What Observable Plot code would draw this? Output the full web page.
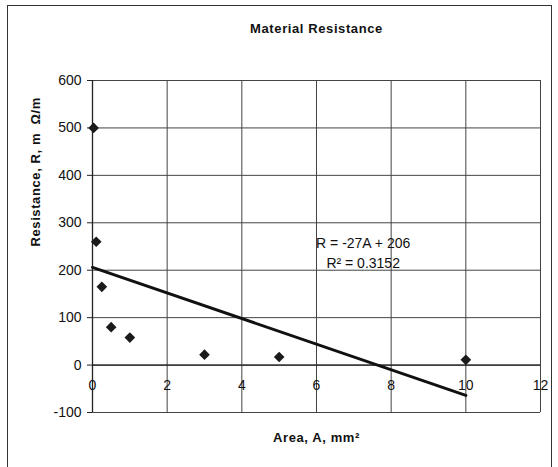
<!DOCTYPE html>
<html>
<head>
<meta charset="utf-8">
<script src="https://cdn.jsdelivr.net/npm/d3@7"></script>
<script src="https://cdn.jsdelivr.net/npm/@observablehq/plot@0.6"></script>
<style>
  html, body { margin: 0; padding: 0; background: #fff; }
  #wrap { position: relative; width: 558px; height: 467px; overflow: hidden; }
  #box { position: absolute; left: 7px; top: 5px; width: 545px; height: 470px; border: 1.5px solid #333; box-sizing: border-box; }
  #chart { position: absolute; left: 0; top: 0; }
  #chart svg text.bold-label { letter-spacing: 0.6px; }
</style>
</head>
<body>
<div id="wrap"><div id="box"></div><div id="chart"></div></div>
<script>
const areas = [0.03, 0.1, 0.25, 0.5, 1, 3, 5, 10];
const resistances = [500, 260, 165, 80, 58, 22, 17, 11];
const trendA = [0, 10];
const trendR = [206, -64];
const xTicks = [0, 2, 4, 6, 8, 10, 12];
const yTicks = [-100, 0, 100, 200, 300, 400, 500, 600];
const titleText = "Material Resistance";
const xLabel = "Area, A, mm\u00B2";
const yLabel = "Resistance, R, m  \u03A9/m";
const eqLines = ["R = -27A + 206", "R\u00B2 = 0.3152"];

const points = areas.map((a, i) => ({a, r: resistances[i]}));
const trend = trendA.map((a, i) => ({a, r: trendR[i]}));

const font = "Liberation Sans, Arial, sans-serif";
const ink = "#111";

const chart = Plot.plot({
  width: 558,
  height: 467,
  marginLeft: 92,
  marginRight: 18,
  marginTop: 80,
  marginBottom: 55,
  style: {fontFamily: font, fontSize: "14px", color: ink, background: "transparent"},
  x: {domain: [0, 12], axis: null},
  y: {domain: [-100, 600], axis: null},
  marks: [
    Plot.gridX(xTicks, {stroke: "#444", strokeOpacity: 1, strokeWidth: 1}),
    Plot.gridY(yTicks, {stroke: "#444", strokeOpacity: 1, strokeWidth: 1}),
    Plot.ruleY([0], {stroke: "#222", strokeWidth: 1.3}),
    Plot.ruleX([0], {stroke: "#222", strokeWidth: 1.3}),
    Plot.axisY(yTicks, {tickSize: 5, tickPadding: 6, fontSize: 14, label: null, stroke: "#222", fill: ink, tickFormat: d => String(d)}),
    Plot.text(xTicks, {x: d => d, y: 0, dy: 20, text: d => String(d), fontSize: 14, fill: ink}),
    Plot.line(trend, {x: "a", y: "r", stroke: ink, strokeWidth: 3}),
    Plot.dot(points, {x: "a", y: "r", symbol: "diamond2", r: 4.8, fill: "#1a1a1a", stroke: "none"}),
    Plot.text([eqLines[0]], {x: 7.25, y: 257, text: d => d, fontSize: 14, fill: ink}),
    Plot.text([eqLines[1]], {x: 7.25, y: 215, text: d => d, fontSize: 14, fill: ink}),
    Plot.text([titleText], {frameAnchor: "top", dy: -57, text: d => d, fontSize: 13, fontWeight: "bold", fill: ink}),
    Plot.text([xLabel], {frameAnchor: "bottom", dy: 29, text: d => d, fontSize: 13, fontWeight: "bold", fill: ink}),
    Plot.text([yLabel], {frameAnchor: "left", dx: -57, rotate: -90, text: d => d, fontSize: 13, fontWeight: "bold", fill: ink})
  ]
});
d3.select(chart).selectAll("text")
  .filter(function() { return d3.select(this).attr("font-weight") === "bold" || (this.parentNode && this.parentNode.getAttribute("font-weight") === "bold"); })
  .classed("bold-label", true);
document.getElementById("chart").appendChild(chart);
</script>
</body>
</html>
